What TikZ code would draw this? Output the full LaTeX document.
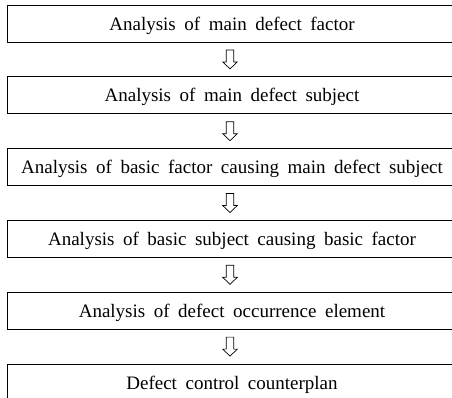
\documentclass[tikz,border=0pt]{standalone}
\usepackage{fontspec}
\setmainfont{Liberation Serif}[WordSpace=1.8]
\usetikzlibrary{calc}

\begin{document}
\begin{tikzpicture}[x=1pt,y=1pt,
  stage/.style={draw=black,line width=0.8pt,minimum width=450pt,minimum height=37pt,
    inner sep=0pt,text height=13pt,text depth=0pt,font=\fontsize{19}{21}\selectfont},
  hollowdown/.pic={\draw[line width=0.7pt] (-3.7,9.5) -- (3.7,9.5) -- (3.7,-2.5) -- (7.3,-2.5)
    -- (0,-9.5) -- (-7.3,-2.5) -- (-3.7,-2.5) -- cycle;}]
  \useasboundingbox (0,0) rectangle (452,-397);

  \node [stage] (box1) at (232,-23.5)  {Analysis of main defect factor};
  \node [stage] (box2) at (232,-95.3)  {Analysis of main defect subject};
  \node [stage] (box3) at (232,-167.1) {Analysis of basic factor causing main defect subject};
  \node [stage] (box4) at (232,-238.9) {Analysis of basic subject causing basic factor};
  \node [stage] (box5) at (232,-310.7) {Analysis of defect occurrence element};
  \node [stage] (box6) at (232,-382.5) {Defect control counterplan};

  % arrows between the stages
  \pic at ($(box1.south)!0.5!(box2.north)+(-2,0)$) {hollowdown};
  \pic at ($(box2.south)!0.5!(box3.north)+(-2,0)$) {hollowdown};
  \pic at ($(box3.south)!0.5!(box4.north)+(-2,0)$) {hollowdown};
  \pic at ($(box4.south)!0.5!(box5.north)+(-2,0)$) {hollowdown};
  \pic at ($(box5.south)!0.5!(box6.north)+(-2,0)$) {hollowdown};
\end{tikzpicture}
\end{document}
